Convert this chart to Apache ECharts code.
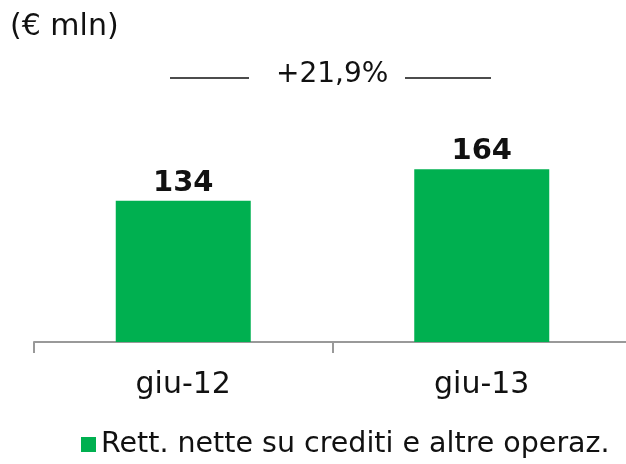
<!DOCTYPE html>
<html>
<head>
<meta charset="utf-8">
<script src="https://cdn.jsdelivr.net/npm/echarts@6/dist/echarts.min.js"></script>
<style>
html,body{margin:0;padding:0;background:#fff;}
#chart{width:626px;height:464px;}
</style>
</head>
<body>
<div id="chart"></div>
<script>
// Periods and values (€ mln)
const categories = ['giu-12', 'giu-13'];
const values = [134, 164];
const seriesName = 'Rett. nette su crediti e altre operaz.';
const unitLabel = '(€ mln)';
const growthLabel = '+21,9%';

const FONT = '"DejaVu Sans", sans-serif';
const GREEN = '#00B050';

const chart = echarts.init(document.getElementById('chart'), null, {renderer: 'canvas'});
chart.setOption({
  animation: false,
  backgroundColor: '#fff',
  title: {
    text: unitLabel,
    left: 5, top: 7,
    textStyle: {fontFamily: FONT, fontSize: 30, fontWeight: 'normal', color: '#111'}
  },
  graphic: [
    {type: 'line', shape: {x1: 170, y1: 78, x2: 249, y2: 78}, style: {stroke: '#111', lineWidth: 1.5}},
    {type: 'line', shape: {x1: 405, y1: 78, x2: 491, y2: 78}, style: {stroke: '#111', lineWidth: 1.5}},
    {type: 'text', left: 276, top: 61, style: {text: growthLabel, font: '28px ' + FONT, fill: '#111'}}
  ],
  legend: {
    data: [seriesName],
    bottom: 0, left: 76,
    icon: 'rect', itemWidth: 15, itemHeight: 15, itemGap: 6,
    textStyle: {fontFamily: FONT, fontSize: 28.5, color: '#111'}
  },
  grid: {left: 34, top: 26, width: 597, height: 316, outerBoundsMode: 'none', containLabel: false},
  xAxis: {
    type: 'category',
    data: categories,
    axisLine: {lineStyle: {color: '#999', width: 2}},
    axisTick: {show: true, length: 11, lineStyle: {color: '#999', width: 2}},
    axisLabel: {fontFamily: FONT, fontSize: 30, color: '#111', margin: 28}
  },
  yAxis: {type: 'value', min: 0, max: 300, show: false, splitLine: {show: false}},
  series: [{
    name: seriesName,
    type: 'bar',
    data: values,
    barWidth: 135,
    itemStyle: {color: GREEN},
    label: {
      show: true, position: 'top', distance: 3,
      fontFamily: FONT, fontSize: 29, fontWeight: 'bold', color: '#111'
    }
  }]
});
</script>
</body>
</html>
